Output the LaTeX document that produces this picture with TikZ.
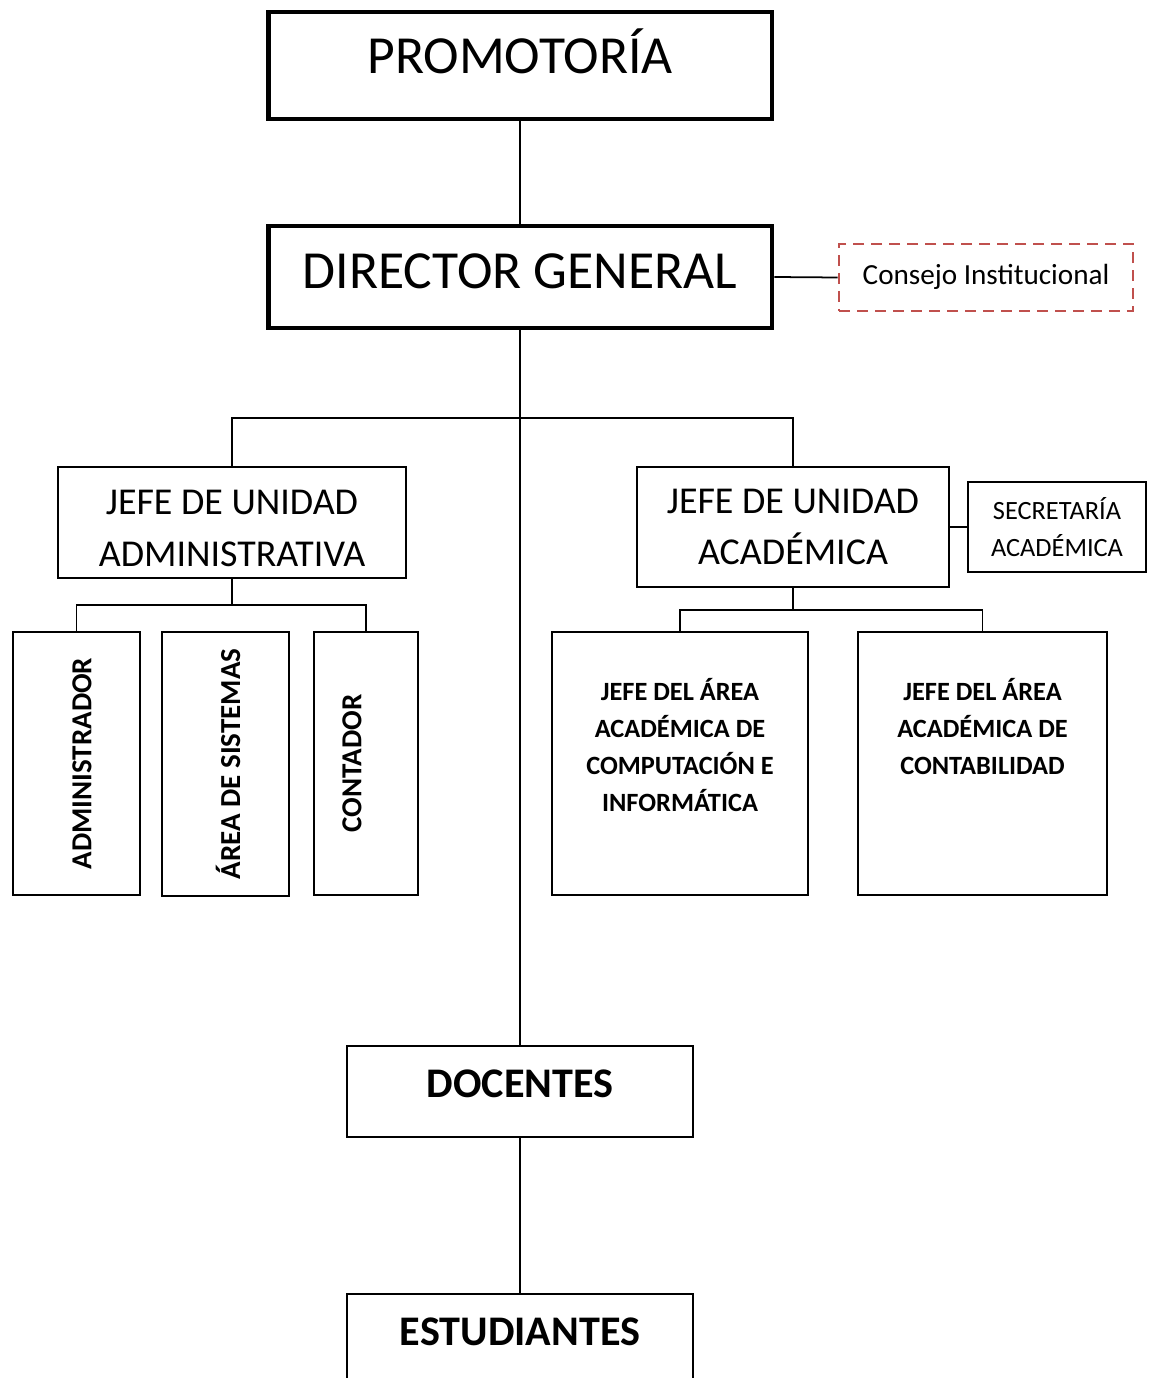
\documentclass[tikz,border=0pt]{standalone}
\usepackage{fontspec}
\setmainfont{Carlito}
\usepackage{xcolor}
\usepackage{graphicx}
\usepackage{tikz}
\definecolor{consejored}{RGB}{192,80,77}

\begin{document}
\begin{tikzpicture}[x=0.02cm,y=-0.02cm,
  box/.style={draw,rectangle,inner sep=0pt,align=center,line width=1pt},
  mainbox/.style={box,line width=2.8pt,minimum width=10.08cm,font=\fontsize{30.5}{36}\selectfont,text height=0.68cm},
  unitbox/.style={box,font=\fontsize{21.6}{29.5}\selectfont},
  smallbox/.style={box,font=\fontsize{15}{21}\selectfont},
  vertbox/.style={box,minimum height=5.26cm,font=\bfseries\fontsize{16.5}{20}\selectfont},
  areabox/.style={box,minimum height=5.26cm,font=\bfseries\fontsize{15}{21}\selectfont},
  basebox/.style={box,minimum width=6.92cm,minimum height=1.82cm,font=\bfseries\fontsize{24}{29}\selectfont,text height=0.53cm,text depth=0.28cm},
  link/.style={draw,line width=1pt}
]
\useasboundingbox (0,0) rectangle (1152,1378);

% top of the chart
\node[mainbox,minimum height=2.14cm,text depth=0.34cm] (prom) at (520,65.5) {PROMOTORÍA};
\node[mainbox,minimum height=2.04cm,text depth=0.2cm] (dg) at (520,277) {DIRECTOR GENERAL};
\node[box,draw=consejored,line width=1.5pt,dash pattern=on 0.22cm off 0.14cm,minimum width=5.88cm,minimum height=1.34cm,font=\fontsize{16.6}{20}\selectfont,text height=0.38cm,text depth=0.1cm] (consejo) at (986,277.5) {Consejo Institucional};

% units
\node[unitbox,minimum width=6.96cm,minimum height=2.22cm] (jadm) at (232,522.5) {\rule{0pt}{0.72cm}JEFE DE UNIDAD\\ADMINISTRATIVA};
\node[unitbox,minimum width=6.24cm,minimum height=2.4cm] (jacad) at (793,527) {JEFE DE UNIDAD\\ACADÉMICA};
\node[smallbox,minimum width=3.56cm,minimum height=1.8cm] (secre) at (1057,527) {SECRETARÍA\\ACADÉMICA};

% administrative staff
\node[vertbox,minimum width=2.54cm] (admin) at (76.5,763.5) {\hspace{0.22cm}\rotatebox{90}{ADMINISTRADOR}};
\node[vertbox,minimum width=2.54cm,minimum height=5.28cm] (sist) at (225.5,764) {\hspace{0.1cm}\rotatebox{90}{ÁREA DE SISTEMAS}};
\node[vertbox,minimum width=2.08cm] (conta) at (366,763.5) {\rotatebox{90}{CONTADOR}\hspace{0.56cm}};

% academic areas
\node[areabox,minimum width=5.12cm] (comp) at (680,763.5) {JEFE DEL ÁREA\\ACADÉMICA DE\\COMPUTACIÓN E\\INFORMÁTICA\\~};
\node[areabox,minimum width=4.98cm] (contab) at (982.5,763.5) {JEFE DEL ÁREA\\ACADÉMICA DE\\CONTABILIDAD\\~\\~};

% bottom
\node[basebox] (doc) at (520,1091.5) {DOCENTES};
\node[basebox] (est) at (520,1339.5) {ESTUDIANTES};

\coordinate (split) at (520,418);
\coordinate (abus) at (232,605);
\coordinate (cbus) at (793,610);

\path[link] (prom) -- (dg);
\path[link] (dg.east) -- (consejo.west);
\path[link] (dg) -- (doc);
\path[link] (jadm.north) |- (split) -| (jacad.north);
\path[link] (jacad.east) -- (secre.west);
\path[link] (jadm) -- (abus);
\path[link] (admin.north) |- (abus) -| (conta.north);
\path[link] (jacad) -- (cbus);
\path[link] (comp.north) |- (cbus) -| (contab.north);
\path[link] (doc) -- (est);
\end{tikzpicture}
\end{document}
